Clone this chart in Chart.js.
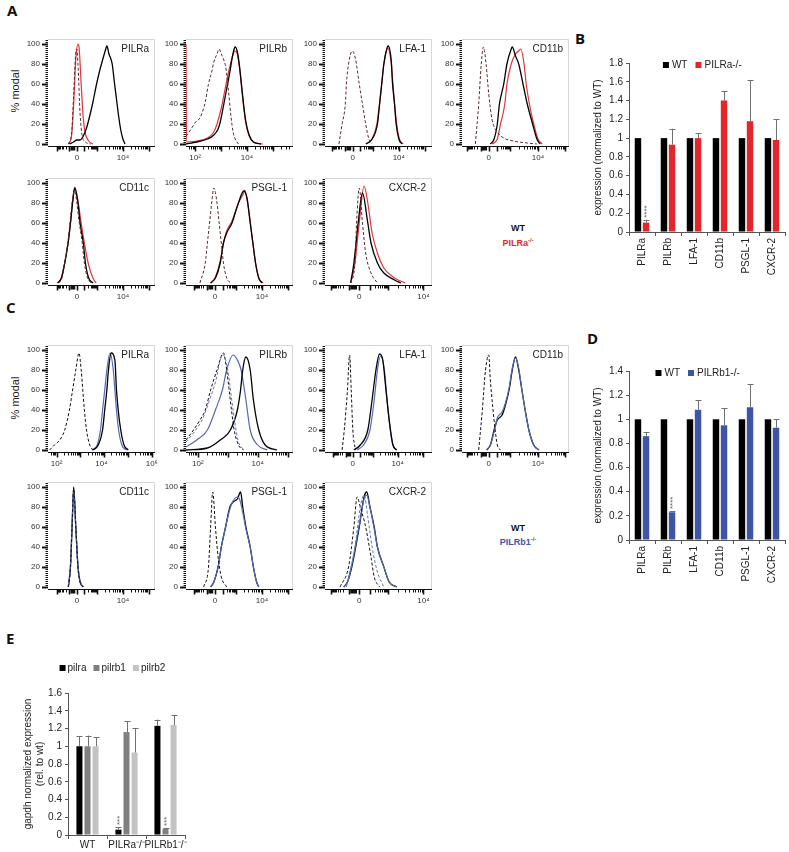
<!DOCTYPE html>
<html><head><meta charset="utf-8">
<script src="https://cdn.jsdelivr.net/npm/chart.js@4.4.1/dist/chart.umd.min.js"></script>
<style>
html,body{margin:0;padding:0;background:#fff}
body{width:789px;height:852px;position:relative;overflow:hidden;font-family:"Liberation Sans",Arial,sans-serif}
canvas{position:absolute}
.pl{position:absolute;font-family:"Open Sans","Liberation Sans",sans-serif;font-weight:bold;font-size:15px;line-height:1;color:#111}
.ct{position:absolute;transform:translate(-50%,-50%);white-space:nowrap;line-height:1}
.rot{position:absolute;transform:translate(-50%,-50%) rotate(-90deg);white-space:nowrap;font-size:11px;color:#222;line-height:1}
sup{font-size:6px;vertical-align:4px}
</style></head><body>
<div class="pl" style="left:7px;top:3px">A</div>
<div class="pl" style="left:575px;top:31px">B</div>
<div class="pl" style="left:6px;top:300px">C</div>
<div class="pl" style="left:587px;top:331px">D</div>
<div class="pl" style="left:6px;top:631px">E</div>
<div class="rot" style="left:15px;top:91px">% modal</div>
<div class="rot" style="left:15px;top:398px">% modal</div>
<div class="ct" style="left:518px;top:228px;font-size:9px;font-weight:bold;color:#111">WT</div>
<div class="ct" style="left:518px;top:242px;font-size:9px;font-weight:bold;color:#e2262b">PILRa<sup>-/-</sup></div>
<div class="ct" style="left:518px;top:528px;font-size:9px;font-weight:bold;color:#111">WT</div>
<div class="ct" style="left:518px;top:541px;font-size:9px;font-weight:bold;color:#3e55a6">PILRb1<sup>-/-</sup></div>
<script>
// ---------------- DATA: flow histograms (x = position along axis 0-100, y = % modal) -------------
// Panel A (WT vs PILRa-/-)
const A_PILRa_iso = [[19,0],[22,10],[24,50],[26,92],[27,95],[28,80],[30,30],[32,8],[35,2],[40,0]];
const A_PILRa_wt  = [[20,0],[24,2],[27,4],[30,4],[33,8],[36,16],[39,28],[42,42],[45,58],[48,72],[51,84],[54,95],[55,98],[57,90],[60,80],[62,62],[64,45],[66,28],[68,14],[70,5],[72,0]];
const A_PILRa_ko  = [[19,0],[22,8],[24,40],[26,85],[28,100],[29,97],[31,60],[33,25],[35,10],[38,3],[42,0]];
const A_PILRb_iso = [[0,8],[3,12],[6,17],[9,22],[13,26],[16,34],[18,42],[21,60],[24,72],[26,82],[29,90],[31,95],[33,90],[35,85],[37,78],[38,70],[40,50],[42,28],[44,12],[46,5],[49,0]];
const A_PILRb_wt  = [[0,0],[10,2],[20,5],[26,9],[30,15],[32,22],[35,38],[38,55],[41,72],[43,85],[45,95],[46,97],[48,92],[50,78],[52,58],[54,38],[56,22],[59,9],[63,2],[70,0]];
const A_PILRb_ko  = [[0,100],[0.5,2],[10,3],[20,6],[26,12],[29,20],[33,36],[36,52],[39,68],[42,82],[44,90],[46,93],[48,90],[50,76],[52,56],[54,36],[56,20],[59,8],[63,2],[72,0]];
const A_LFA1_iso  = [[13,0],[16,20],[19,40],[20,60],[22,80],[25.5,93],[28.5,85],[32,60],[35,40],[38,20],[41,5],[44,0]];
const A_LFA1_wt   = [[38.5,0],[44,5],[49,20],[51,40],[53,60],[55,80],[58,96],[59,98],[62,82],[63,62],[65,40],[66.5,20],[69,5],[72,0]];
const A_LFA1_ko   = [[38,0],[44,5],[48.5,20],[51,40],[53,60],[55,80],[58.5,96],[62,80],[63.5,60],[65,40],[67,20],[69.5,5],[73,0]];
const A_CD11b_iso = [[12.5,0],[15.6,40],[18,80],[20,97],[22.5,80],[25,50],[28,25],[33,12],[39,6],[48,3],[61,1],[70,0]];
const A_CD11b_wt  = [[26.5,0],[30,5],[33,20],[35,40],[39,60],[42,80],[46,95],[47,97],[50,88],[53,80],[57,60],[61,40],[66,20],[70,5],[73,0]];
const A_CD11b_ko  = [[28,0],[33,5],[36,20],[40,40],[42,60],[46,80],[50,90],[53,93],[55,95],[58,80],[60,60],[63,40],[67,20],[71,5],[75,0]];
const A_CD11c_iso = [[10,0],[13,5],[16,22],[19,45],[21,65],[23,85],[25,92],[27,80],[29,62],[32,40],[34,20],[37,5],[40,0]];
const A_CD11c_wt  = [[9,0],[12.5,5],[15.6,20],[18.8,40],[21,60],[23,80],[25,95],[28,80],[30,60],[33,40],[35,20],[38,5],[42,0]];
const A_CD11c_ko  = [[9,0],[12.5,5],[15.6,20],[18.8,40],[21,60],[23,82],[25,96],[28,82],[31,60],[34,40],[37.5,20],[42,5],[45,0]];
const A_PSGL1_iso = [[13,0],[18,20],[20,40],[22,60],[24,80],[26,95],[29,80],[31,60],[33,40],[35,20],[38,5],[42,0]];
const A_PSGL1_wt  = [[23,0],[27.5,5],[32,20],[35,40],[38,50],[43,60],[46,70],[49,80],[54,92],[57,85],[60,60],[62.5,40],[65,20],[68,5],[71,0]];
const A_PSGL1_ko  = [[23,0],[27.5,6],[32,22],[35,40],[38,52],[43,62],[46,71],[49,80],[53,88],[55,93],[57,84],[60,62],[62.5,40],[65,20],[68,5],[72,0]];
const A_CXCR2_iso = [[24,0],[28,20],[29.5,60],[32,95],[35,60],[38,30],[43,10],[49,0]];
const A_CXCR2_wt  = [[24,0],[27,20],[31,60],[35,90],[40,60],[43,40],[49,20],[55,10],[65,3],[71,0]];
const A_CXCR2_ko  = [[24,0],[28,20],[32,60],[36.5,97],[40,80],[44,50],[49,30],[55,15],[65,5],[75,0]];
// Panel C (WT vs PILRb1-/-)
const C_PILRa_iso = [[1.5,0],[6,5],[11,10],[15.6,20],[20,40],[23,60],[26,80],[29,97],[31,80],[34,40],[36,20],[39,5],[42,0]];
const C_PILRa_wt  = [[42,0],[47,5],[51,20],[53,40],[55,60],[56.5,80],[59,97],[62.5,90],[64,60],[65.6,40],[68,20],[71,5],[75,0]];
const C_PILRa_ko  = [[41,0],[46,5],[49,20],[51,40],[53,60],[55,80],[58,97],[61,80],[64,40],[66,20],[69,5],[73,0]];
const C_PILRb_iso = [[0,10],[7,20],[13,30],[18,40],[23,60],[29,80],[35,97],[38,80],[42.5,40],[45,20],[49,5],[54,0]];
const C_PILRb_isoKO = [[0,8],[9,20],[15,30],[22,50],[28,70],[32,90],[35,95],[39,80],[44,40],[48.5,10],[54,0]];
const C_PILRb_wt  = [[0,0],[20,2],[32,10],[41.5,20],[48,40],[51,60],[53,80],[56,93],[60,80],[63,50],[68,20],[74,5],[85,0]];
const C_PILRb_ko  = [[0,3],[10,10],[20,20],[27.5,40],[34,60],[38,80],[44,95],[48,90],[51.5,80],[56,50],[60,20],[67,5],[76,0]];
const C_LFA1_iso  = [[16,0],[18,20],[21,60],[23,95],[24.5,60],[26,20],[28.5,0]];
const C_LFA1_wt   = [[27,0],[33,5],[40,20],[44,50],[47.6,80],[51,96],[54,90],[57,60],[60,30],[63.5,5],[67,0]];
const C_LFA1_ko   = [[30,0],[36,5],[42,20],[46,50],[49,80],[52,94],[55.5,80],[58,50],[61,20],[63.5,5],[67,0]];
const C_CD11b_iso = [[15.6,0],[19,40],[22,80],[25,95],[26.5,70],[29,40],[31,20],[33,5],[36,0]];
const C_CD11b_wt  = [[23,0],[26.5,5],[30,20],[33,30],[37.5,35],[40.6,45],[44,60],[47,80],[50,93],[53,80],[56,60],[59,40],[62.5,20],[67,5],[72,0]];
const C_CD11b_ko  = [[23,0],[26.5,5],[30,18],[33,32],[37.5,38],[40.6,47],[44,62],[47,82],[50,92],[53,82],[56,60],[59,40],[62.5,20],[67,5],[72,0]];
const C_CD11c_iso = [[19,0],[21,20],[22.5,60],[24,98],[26,60],[28,20],[30,5],[33,0]];
const C_CD11c_wt  = [[19,0],[21,20],[22.5,60],[24,100],[26,60],[28,20],[30,5],[33,0]];
const C_CD11c_ko  = [[19,0],[21,22],[22.5,62],[24,97],[26,58],[28,22],[30,6],[33,0]];
const C_PSGL1_iso = [[16.5,0],[21,20],[23,60],[25,95],[27.5,60],[30,30],[33,10],[38,0]];
const C_PSGL1_wt  = [[23,0],[26,5],[30,20],[33,40],[37,60],[41,80],[44,85],[48,88],[51,95],[53,80],[56,60],[60,40],[63,20],[66,5],[68,0]];
const C_PSGL1_ko  = [[23,0],[26,5],[30,20],[33,40],[37,60],[41,78],[44,86],[48,90],[50,88],[53,75],[56,58],[60,40],[63,20],[66,5],[68,0]];
const C_CXCR2_iso = [[14,0],[22,20],[27,60],[30,90],[33,80],[38,60],[43,30],[46,10],[51,0]];
const C_CXCR2_isoKO = [[20,0],[28,40],[33,80],[36.5,92],[40,70],[44,40],[49,15],[55,0]];
const C_CXCR2_wt  = [[17.5,0],[21,5],[25,20],[32,60],[36.5,90],[39,95],[42,80],[46,60],[49,40],[55,20],[60,5],[67,0]];
const C_CXCR2_ko  = [[17.5,0],[21,5],[25,22],[32,62],[36.5,88],[39,92],[42,80],[46,58],[49,40],[55,20],[60,5],[67,0]];

// ---------------- DATA: bar charts -------------
const B_categories = ['PILRa','PILRb','LFA-1','CD11b','PSGL-1','CXCR-2'];
const B_WT = [1,1,1,1,1,1];
const B_KO = [0.10,0.93,1.00,1.40,1.18,0.98];
const B_KO_err = [0.03,0.17,0.05,0.10,0.44,0.22];
const B_KO_sig = ['****','','','','',''];
const B_ticks = [0,0.2,0.4,0.6,0.8,1,1.2,1.4,1.6,1.8];

const D_categories = ['PILRa','PILRb','LFA-1','CD11b','PSGL-1','CXCR-2'];
const D_WT = [1,1,1,1,1,1];
const D_KO = [0.86,0.23,1.08,0.95,1.10,0.93];
const D_KO_err = [0.035,0.01,0.08,0.14,0.19,0.07];
const D_KO_sig = ['','****','','','',''];
const D_ticks = [0,0.2,0.4,0.6,0.8,1,1.2,1.4];

const E_groups = ['WT','PILRa\u207B/\u207B','PILRb1\u207B/\u207B'];
const E_pilra = [1.00,0.06,1.23];
const E_pilra_err = [0.11,0.03,0.07];
const E_pilrb1 = [1.00,1.16,0.07];
const E_pilrb1_err = [0.12,0.12,0.01];
const E_pilrb2 = [1.00,0.93,1.24];
const E_pilrb2_err = [0.10,0.27,0.11];
const E_sig_pilra = ['','***',''];
const E_sig_pilrb1 = ['','','***'];
const E_ticks = [0,0.2,0.4,0.6,0.8,1,1.2,1.4,1.6];

// ---------------- styling / layout -------------
Chart.defaults.font.family = '"Liberation Sans", Arial, sans-serif';
Chart.defaults.color = '#222';
const FONT = '"Liberation Sans", Arial, sans-serif';
const RED = '#e2262b', BLUE = '#3e55a6';
const LINE = {
  isoA:{c:'#5a2a2a',w:1,d:[3,2]}, iso:{c:'#111',w:1,d:[3,2]}, isoB:{c:'#6275ba',w:1,d:[3,2]},
  wt:{c:'#000',w:1.3,d:[]}, koA:{c:'#e0343b',w:1.2,d:[]}, koB:{c:'#5568b5',w:1.2,d:[]}
};
const ROW_TOP = [39,178,345,482];
const COL_LEFT = [48,186,325,462];
const PW = 107, YW = 30, PADT = 14, PADR = 14, XH = 22;

const SUP = {2:'\u00B2',4:'\u2074',6:'\u2076'};
const biex = (p0,p4)=>({t:'biex',p0,p4,labels:[[p0,'0'],[p4,'10'+SUP[4]]]});
const logx = (p2,dec,labels)=>({t:'log',p2,dec,labels});

const hists = [
 {r:0,c:0,title:'PILRa', ax:biex(27,70), s:[[A_PILRa_iso,'isoA'],[A_PILRa_wt,'wt'],[A_PILRa_ko,'koA']]},
 {r:0,c:1,title:'PILRb', ax:logx(8.5,24.3,[[8.5,'10'+SUP[2]],[57,'10'+SUP[4]]]), s:[[A_PILRb_iso,'isoA'],[A_PILRb_wt,'wt'],[A_PILRb_ko,'koA']]},
 {r:0,c:2,title:'LFA-1', ax:biex(26,69), s:[[A_LFA1_iso,'isoA'],[A_LFA1_wt,'wt'],[A_LFA1_ko,'koA']]},
 {r:0,c:3,title:'CD11b', ax:biex(25,71), s:[[A_CD11b_iso,'isoA'],[A_CD11b_wt,'wt'],[A_CD11b_ko,'koA']]},
 {r:1,c:0,title:'CD11c', ax:biex(27,70), s:[[A_CD11c_iso,'isoA'],[A_CD11c_wt,'wt'],[A_CD11c_ko,'koA']]},
 {r:1,c:1,title:'PSGL-1', ax:biex(27,71), s:[[A_PSGL1_iso,'isoA'],[A_PSGL1_wt,'wt'],[A_PSGL1_ko,'koA']]},
 {r:1,c:2,title:'CXCR-2', ax:biex(32,92), s:[[A_CXCR2_iso,'isoA'],[A_CXCR2_wt,'wt'],[A_CXCR2_ko,'koA']]},
 {r:2,c:0,title:'PILRa', ax:logx(8,22.3,[[8,'10'+SUP[2]],[50,'10'+SUP[4]],[97,'10'+SUP[6]]]), s:[[C_PILRa_iso,'iso'],[C_PILRa_wt,'wt'],[C_PILRa_ko,'koB']]},
 {r:2,c:1,title:'PILRb', ax:logx(11,28,[[11,'10'+SUP[2]],[67,'10'+SUP[4]]]), s:[[C_PILRb_isoKO,'isoB'],[C_PILRb_iso,'iso'],[C_PILRb_wt,'wt'],[C_PILRb_ko,'koB']]},
 {r:2,c:2,title:'LFA-1', ax:biex(26,68), s:[[C_LFA1_iso,'iso'],[C_LFA1_wt,'wt'],[C_LFA1_ko,'koB']]},
 {r:2,c:3,title:'CD11b', ax:biex(25,71), s:[[C_CD11b_iso,'iso'],[C_CD11b_ko,'koB'],[C_CD11b_wt,'wt']]},
 {r:3,c:0,title:'CD11c', ax:biex(27,70), s:[[C_CD11c_iso,'iso'],[C_CD11c_ko,'koB'],[C_CD11c_wt,'wt']]},
 {r:3,c:1,title:'PSGL-1', ax:biex(27,71), s:[[C_PSGL1_iso,'iso'],[C_PSGL1_ko,'koB'],[C_PSGL1_wt,'wt']]},
 {r:3,c:2,title:'CXCR-2', ax:biex(32,92), s:[[C_CXCR2_isoKO,'isoB'],[C_CXCR2_iso,'iso'],[C_CXCR2_ko,'koB'],[C_CXCR2_wt,'wt']]}
];

// axis decoration (tick marks of flow-cytometry axes)
function axisMarks(ax){
  const out=[]; let block=null;
  const logDec=(a,b)=>{for(let k=2;k<=9;k++) out.push([a+(b-a)*Math.log10(k),0]);};
  if(ax.t==='biex'){
    const s=(ax.p4-ax.p0)/43, p0=ax.p0, p4=ax.p4;
    const m=[p0-19*s,p0-7*s,p0,p0+7*s,p0+19*s,p4,p4+24*s];
    m.forEach(v=>out.push([v,1]));
    for(let k=2;k<=9;k++) out.push([m[1]-(m[1]-m[0])*Math.log10(k),0]);
    logDec(m[3],m[4]); logDec(m[4],m[5]); logDec(m[5],m[6]);
    block=[p0-6*s,p0-1.5*s];
  } else {
    for(let k=-2;k<=5;k++){const a=ax.p2+k*ax.dec; out.push([a,1]); logDec(a,a+ax.dec);}
  }
  return {ticks:out.filter(t=>t[0]>=2&&t[0]<=98),block};
}

const histDeco = {
  id:'histDeco',
  afterDraw(chart,args,o){
    const {ctx,chartArea:a,scales:{x,y}} = chart;
    ctx.save();
    ctx.strokeStyle='#d6d6d6'; ctx.lineWidth=1;
    ctx.beginPath(); ctx.moveTo(a.left,a.top+0.5); ctx.lineTo(a.right-0.5,a.top+0.5); ctx.lineTo(a.right-0.5,a.bottom); ctx.stroke();
    ctx.strokeStyle='#111';
    for(let v=0; v<=104; v+=2){
      const py=Math.round(y.getPixelForValue(v))+0.5, major=(v%20===0&&v<=100);
      ctx.lineWidth=major?2:1;
      ctx.beginPath(); ctx.moveTo(a.left-(major?6:2.5),py); ctx.lineTo(a.left,py); ctx.stroke();
    }
    const by=Math.round(a.bottom)+0.5;
    ctx.lineWidth=1; ctx.beginPath(); ctx.moveTo(a.left,by); ctx.lineTo(a.right,by); ctx.stroke();
    const mk=axisMarks(o.ax);
    mk.ticks.forEach(t=>{
      const px=Math.round(x.getPixelForValue(t[0]))+0.5;
      ctx.lineWidth=t[1]?1.6:1;
      ctx.beginPath(); ctx.moveTo(px,by); ctx.lineTo(px,by+(t[1]?5:3)); ctx.stroke();
    });
    if(mk.block){
      const x1=x.getPixelForValue(mk.block[0]), x2=x.getPixelForValue(mk.block[1]);
      ctx.fillStyle='#111'; ctx.fillRect(x1,by,x2-x1,4);
    }
    ctx.fillStyle='#222'; ctx.font='10px '+FONT; ctx.textAlign='right'; ctx.textBaseline='middle';
    ctx.fillText(o.title,a.right-6,a.top+10);
    ctx.restore();
  }
};

function mkCanvas(left,top,w,h){
  const c=document.createElement('canvas');
  c.width=w; c.height=h; c.style.left=left+'px'; c.style.top=top+'px';
  c.style.width=w+'px'; c.style.height=h+'px';
  document.body.appendChild(c); return c;
}

hists.forEach(h=>{
  const cv=mkCanvas(COL_LEFT[h.c]-YW, ROW_TOP[h.r]-PADT, YW+PW+PADR, PADT+107+XH);
  const labels=h.ax.labels;
  new Chart(cv,{
    type:'line',
    data:{datasets:h.s.map(([pts,st])=>({
      data:pts.map(p=>({x:p[0],y:p[1]})), borderColor:LINE[st].c, borderWidth:LINE[st].w,
      borderDash:LINE[st].d, pointRadius:0, fill:false, cubicInterpolationMode:'monotone'}))},
    options:{
      animation:false, responsive:false, devicePixelRatio:1, events:[],
      layout:{padding:{left:0,top:PADT,right:PADR,bottom:0}},
      plugins:{legend:{display:false},tooltip:{enabled:false},histDeco:{title:h.title,ax:h.ax}},
      scales:{
        x:{type:'linear',min:0,max:100,grid:{display:false,drawTicks:false},border:{display:false},
           afterBuildTicks:sc=>{sc.ticks=labels.map(l=>({value:l[0]}));},
           ticks:{callback:(v,i)=>labels[i][1],autoSkip:false,maxRotation:0,font:{size:8},color:'#333',padding:7},
           afterFit:sc=>{sc.height=XH;}},
        y:{min:-2,max:105,grid:{display:false,drawTicks:false},border:{display:false},
           afterBuildTicks:sc=>{sc.ticks=[0,20,40,60,80,100].map(v=>({value:v}));},
           ticks:{font:{size:8},color:'#333',padding:8},
           afterFit:sc=>{sc.width=YW;}}
      }
    },
    plugins:[histDeco]
  });
});

// ---------------- bar charts -------------
const barExtras = {
  id:'barExtras',
  afterDatasetsDraw(chart){
    const {ctx,scales:{y}}=chart;
    chart.data.datasets.forEach((ds,i)=>{
      const meta=chart.getDatasetMeta(i);
      meta.data.forEach((bar,j)=>{
        const v=ds.data[j]; let top=bar.y;
        if(ds.errors&&ds.errors[j]){
          top=y.getPixelForValue(v+ds.errors[j]);
          const bx=Math.round(bar.x)+0.5;
          ctx.save(); ctx.strokeStyle='#707070'; ctx.lineWidth=1;
          ctx.beginPath(); ctx.moveTo(bx,bar.y); ctx.lineTo(bx,top);
          ctx.moveTo(bx-3,Math.round(top)+0.5); ctx.lineTo(bx+3,Math.round(top)+0.5); ctx.stroke(); ctx.restore();
        }
        if(ds.sig&&ds.sig[j]){
          ctx.save(); ctx.translate(bar.x+1,top-2); ctx.rotate(-Math.PI/2);
          ctx.font='8px '+FONT; ctx.fillStyle='#666'; ctx.textAlign='left'; ctx.textBaseline='middle';
          ctx.fillText(ds.sig[j],0,0); ctx.restore();
        }
      });
    });
  }
};
const miniLegend = {
  id:'miniLegend',
  afterDraw(chart,args,o){
    const {ctx,chartArea:a}=chart;
    ctx.save(); ctx.font=o.size+'px '+FONT; ctx.textBaseline='middle';
    const items=chart.data.datasets.map(d=>({t:d.label,c:d.backgroundColor}));
    const w=items.map(it=>o.box+o.gap+ctx.measureText(it.t).width);
    const total=w.reduce((s,v)=>s+v,0)+o.space*(items.length-1);
    let x=a.left+(a.right-a.left)*o.cx-total/2; const yy=a.top+o.dy;
    items.forEach((it,i)=>{
      ctx.fillStyle=it.c; ctx.fillRect(x,yy-o.box/2,o.box,o.box);
      ctx.fillStyle='#222'; ctx.fillText(it.t,x+o.box+o.gap,yy); x+=w[i]+o.space;
    });
    ctx.restore();
  }
};
const fmt = v=>String(Math.round(v*10)/10);

function barChart(cv,cfg){
  return new Chart(cv,{
    type:'bar',
    data:{labels:cfg.labels,datasets:cfg.datasets.map(d=>Object.assign({borderWidth:0,barPercentage:cfg.bp,categoryPercentage:cfg.cp},d))},
    options:{
      animation:false,responsive:false,devicePixelRatio:1,events:[],
      layout:{padding:cfg.pad},
      plugins:{legend:{display:false},tooltip:{enabled:false},miniLegend:cfg.legend},
      scales:{
        x:{grid:{display:true,drawOnChartArea:false,offset:true,tickLength:4,color:'#555'},border:{color:'#555'},
           ticks:{minRotation:cfg.rot,maxRotation:cfg.rot,autoSkip:false,font:{size:10},color:'#222',padding:cfg.xpad},
           afterFit:sc=>{sc.height=cfg.xh;}},
        y:{min:0,max:cfg.max,grid:{display:true,drawOnChartArea:false,tickLength:3,color:'#555'},border:{color:'#555'},
           afterBuildTicks:sc=>{sc.ticks=cfg.ticks.map(v=>({value:v}));},
           ticks:{callback:fmt,font:{size:10},color:'#222',padding:3},
           title:{display:true,text:cfg.ytitle,font:{size:10},color:'#222',padding:{top:4,bottom:0}},
           afterFit:sc=>{sc.width=cfg.yw;}}
      }
    },
    plugins:[barExtras,miniLegend]
  });
}

barChart(mkCanvas(580,35,209,242),{
  labels:B_categories, bp:0.8, cp:0.62, rot:90, xh:45, xpad:2, max:1.8, ticks:B_ticks, yw:41,
  pad:{left:8,top:28,right:4,bottom:0}, ytitle:'expression (normalized to WT)',
  legend:{cx:0.47,dy:2,size:10,box:6,gap:3,space:8},
  datasets:[
    {label:'WT',data:B_WT,backgroundColor:'#000'},
    {label:'PILRa-/-',data:B_KO,backgroundColor:RED,errors:B_KO_err,sig:B_KO_sig}
  ]
});
barChart(mkCanvas(580,343,209,242),{
  labels:D_categories, bp:0.8, cp:0.62, rot:90, xh:45, xpad:2, max:1.4, ticks:D_ticks, yw:41,
  pad:{left:8,top:28,right:4,bottom:0}, ytitle:'expression (normalized to WT)',
  legend:{cx:0.44,dy:2,size:10,box:6,gap:3,space:8},
  datasets:[
    {label:'WT',data:D_WT,backgroundColor:'#000'},
    {label:'PILRb1-/-',data:D_KO,backgroundColor:BLUE,errors:D_KO_err,sig:D_KO_sig}
  ]
});
barChart(mkCanvas(0,650,190,202),{
  labels:E_groups, bp:0.75, cp:0.62, rot:0, xh:17, xpad:0, max:1.6, ticks:E_ticks, yw:50,
  pad:{left:18,top:43,right:5,bottom:0}, ytitle:['gapdh normalized expression','(rel. to wt)'],
  legend:{cx:0.38,dy:-25,size:10,box:6,gap:2,space:7},
  datasets:[
    {label:'pilra',data:E_pilra,backgroundColor:'#000',errors:E_pilra_err,sig:E_sig_pilra},
    {label:'pilrb1',data:E_pilrb1,backgroundColor:'#808080',errors:E_pilrb1_err,sig:E_sig_pilrb1},
    {label:'pilrb2',data:E_pilrb2,backgroundColor:'#c3c3c3',errors:E_pilrb2_err}
  ]
});
</script>
</body></html>
